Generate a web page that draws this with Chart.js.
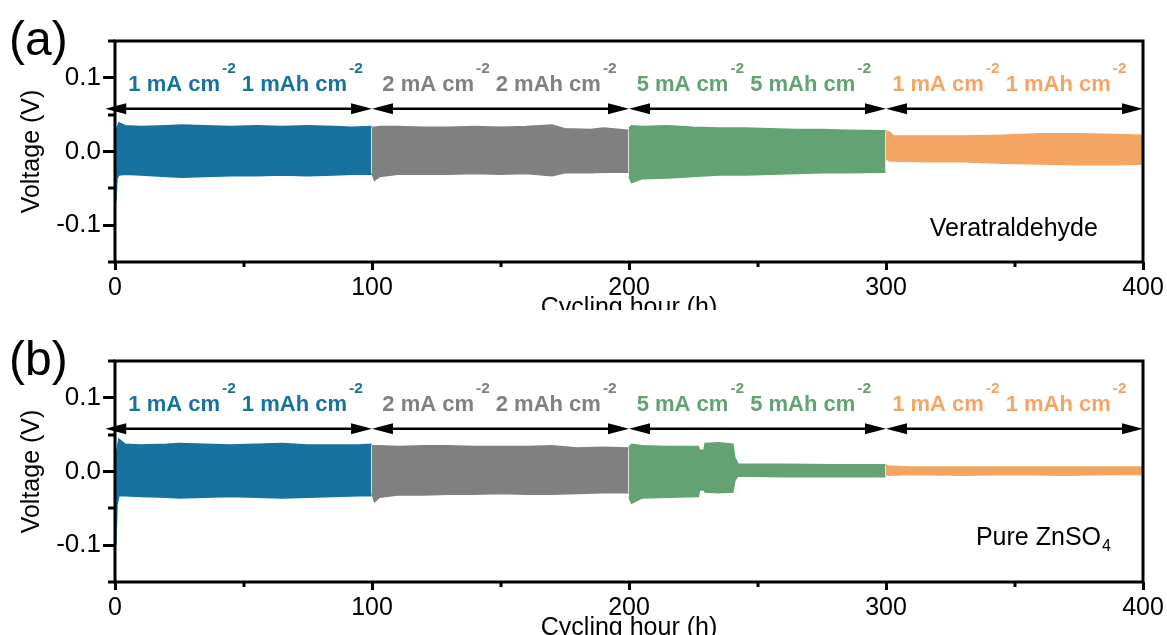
<!DOCTYPE html>
<html>
<head>
<meta charset="utf-8">
<script src="https://cdn.jsdelivr.net/npm/chart.js@4.4.1/dist/chart.umd.min.js"></script>
<style>
html, body { margin:0; padding:0; background:#fff; overflow:hidden; width:1167px; height:635px; }
#pa { position:absolute; left:0; top:0; }
#wrapb { position:absolute; left:0; top:310px; width:1167px; height:325px; overflow:hidden; background:#fff; }
#pb { position:absolute; left:0; top:10px; }
</style>
</head>
<body>
<canvas id="pa" width="1167" height="330"></canvas>
<div id="wrapb"><canvas id="pb" width="1167" height="330"></canvas></div>
<script>
// current steps
const seg_start = [0, 100, 200, 300];
const seg_end = [100, 200, 300, 400];
const seg_colors = ["#17739e", "#808080", "#62a273", "#f4a564"];
const rate_labels = ["1 mA cm", "2 mA cm", "5 mA cm", "1 mA cm"];
const cap_labels = ["1 mAh cm", "2 mAh cm", "5 mAh cm", "1 mAh cm"];
const x_ticks = [0, 100, 200, 300, 400];
const y_ticks = [-0.1, 0, 0.1];

// (a) veratraldehyde: envelope of the voltage oscillation
const hours_a = [0, 0.3, 0.8, 1.5, 4, 10, 20, 26, 35, 45, 55, 65, 75, 85, 92, 99.8,
	100, 101, 103, 110, 120, 130, 140, 150, 160, 170, 175, 185, 190, 199.8,
	200, 201, 205, 215, 225, 235, 245, 255, 265, 275, 285, 299.8,
	300, 301.5, 303, 315, 330, 345, 360, 375, 390, 400];
const upper_a = [0.005, 0.015, 0.032, 0.039, 0.035, 0.034, 0.035, 0.036, 0.035, 0.034, 0.035, 0.034, 0.035, 0.034, 0.033, 0.034,
	0.033, 0.033, 0.034, 0.034, 0.033, 0.033, 0.034, 0.033, 0.034, 0.036, 0.031, 0.030, 0.032, 0.029,
	0.032, 0.035, 0.034, 0.035, 0.033, 0.032, 0.032, 0.031, 0.030, 0.030, 0.029, 0.028,
	0.028, 0.026, 0.021, 0.021, 0.021, 0.022, 0.024, 0.024, 0.023, 0.022];
const lower_a = [-0.020, -0.068, -0.036, -0.032, -0.031, -0.032, -0.034, -0.035, -0.034, -0.033, -0.033, -0.032, -0.033, -0.032, -0.031, -0.031,
	-0.030, -0.039, -0.034, -0.031, -0.031, -0.031, -0.030, -0.031, -0.030, -0.033, -0.029, -0.029, -0.028, -0.028,
	-0.034, -0.042, -0.037, -0.036, -0.034, -0.032, -0.032, -0.031, -0.030, -0.029, -0.029, -0.028,
	-0.010, -0.013, -0.013, -0.014, -0.014, -0.016, -0.017, -0.018, -0.018, -0.017];

// (b) pure ZnSO4
const hours_b = [0, 0.3, 0.8, 1.5, 4, 10, 20, 25, 35, 45, 55, 65, 75, 85, 95, 99.8,
	100, 101, 103, 110, 120, 130, 140, 150, 160, 170, 180, 190, 199.8,
	200, 201, 205, 215, 227, 227.4, 229.2, 229.6, 235, 240.4, 241.2, 242.5, 260, 280, 299.8,
	300, 301, 310, 330, 350, 370, 390, 400];
const upper_b = [0.010, 0.020, 0.030, 0.044, 0.037, 0.036, 0.037, 0.038, 0.037, 0.036, 0.037, 0.038, 0.036, 0.036, 0.036, 0.037,
	0.035, 0.035, 0.035, 0.034, 0.035, 0.035, 0.034, 0.034, 0.034, 0.035, 0.032, 0.033, 0.032,
	0.033, 0.037, 0.035, 0.034, 0.034, 0.029, 0.029, 0.038, 0.039, 0.037, 0.018, 0.010, 0.010, 0.009, 0.009,
	0.009, 0.007, 0.006, 0.006, 0.006, 0.006, 0.006, 0.006];
const lower_b = [-0.020, -0.100, -0.045, -0.033, -0.033, -0.034, -0.035, -0.036, -0.035, -0.034, -0.035, -0.036, -0.035, -0.034, -0.033, -0.033,
	-0.030, -0.041, -0.035, -0.032, -0.032, -0.031, -0.031, -0.030, -0.031, -0.031, -0.030, -0.029, -0.029,
	-0.035, -0.043, -0.036, -0.035, -0.034, -0.025, -0.025, -0.028, -0.029, -0.028, -0.012, -0.006, -0.007, -0.007, -0.007,
	-0.004, -0.005, -0.004, -0.005, -0.004, -0.005, -0.004, -0.004];

const font_name = "'Liberation Sans', Arial, sans-serif";

function make_datasets(hours, upper, lower) {
	const ds = [];
	for (let i = 0; i < seg_start.length; i++) {
		const lo = [], hi = [];
		const last = i === seg_start.length - 1;
		for (let k = 0; k < hours.length; k++) {
			const h = hours[k];
			if (h >= seg_start[i] && (h < seg_end[i] || (last && h <= seg_end[i]))) {
				lo.push({x: h, y: lower[k]});
				hi.push({x: h, y: upper[k]});
			}
		}
		ds.push({data: lo, borderColor: seg_colors[i], borderWidth: 1.5, pointRadius: 0, fill: false});
		ds.push({data: hi, borderColor: seg_colors[i], backgroundColor: seg_colors[i], borderWidth: 1.5, pointRadius: 0, fill: "-1"});
	}
	return ds;
}

// box, minor ticks, arrows and texts
const panel_plugin = {
	id: "panel",
	afterDraw(chart, args, opts) {
		const ctx = chart.ctx;
		const xs = chart.scales.x, ys = chart.scales.y;
		const area = chart.chartArea;
		ctx.save();
		ctx.strokeStyle = "#000";
		ctx.lineWidth = 3;
		ctx.strokeRect(area.left, area.top, area.right - area.left, area.bottom - area.top);
		// minor ticks
		ctx.beginPath();
		for (let v = -0.15; v <= 0.151; v += 0.05) {
			if (y_ticks.some(t => Math.abs(t - v) < 1e-6)) continue;
			const py = Math.round(ys.getPixelForValue(v));
			ctx.moveTo(area.left - 7, py);
			ctx.lineTo(area.left, py);
		}
		for (let v = 50; v < 400; v += 100) {
			const px = Math.round(xs.getPixelForValue(v));
			ctx.moveTo(px, area.bottom);
			ctx.lineTo(px, area.bottom + 5);
		}
		ctx.stroke();

		// arrows
		const ay = ys.getPixelForValue(0.058);
		ctx.lineWidth = 2.5;
		ctx.fillStyle = "#000";
		for (let i = 0; i < seg_start.length; i++) {
			const x0 = xs.getPixelForValue(seg_start[i] - (i === 0 ? 3.8 : 0));
			const x1 = xs.getPixelForValue(seg_end[i]);
			ctx.beginPath();
			ctx.moveTo(x0 + 10, ay);
			ctx.lineTo(x1 - 10, ay);
			ctx.stroke();
			for (const [tip, dir] of [[x0, -1], [x1, 1]]) {
				ctx.beginPath();
				ctx.moveTo(tip, ay);
				ctx.lineTo(tip - dir * 21, ay - 5.5);
				ctx.lineTo(tip - dir * 21, ay + 5.5);
				ctx.closePath();
				ctx.fill();
			}
		}

		// step labels
		const by = ys.getPixelForValue(0.082);
		ctx.textBaseline = "alphabetic";
		ctx.textAlign = "left";
		for (let i = 0; i < seg_start.length; i++) {
			ctx.fillStyle = seg_colors[i];
			let x = xs.getPixelForValue(opts.labelStart[i]);
			for (const txt of [rate_labels[i], cap_labels[i]]) {
				ctx.font = "bold 22px " + font_name;
				ctx.fillText(txt, x, by);
				x += ctx.measureText(txt).width + 2;
				ctx.font = "bold 15.5px " + font_name;
				ctx.fillText("-2", x, by - 18);
				x += ctx.measureText("-2").width + 6;
			}
		}

		// panel tag and electrolyte name
		ctx.fillStyle = "#000";
		ctx.font = "48px " + font_name;
		ctx.fillText(opts.tag, 9, 55);
		ctx.font = "25px " + font_name;
		const nx = xs.getPixelForValue(opts.nameAt[0]);
		const ny = ys.getPixelForValue(opts.nameAt[1]);
		ctx.fillText(opts.name, nx, ny);
		if (opts.sub) {
			const w = ctx.measureText(opts.name).width;
			ctx.font = "16px " + font_name;
			ctx.fillText(opts.sub, nx + w + 1, ny + 6);
		}
		ctx.restore();
	}
};

function panel_conf(hours, upper, lower, tag, name, sub, nameAt) {
	return {
		type: "line",
		data: {datasets: make_datasets(hours, upper, lower)},
		options: {
			responsive: false,
			animation: false,
			devicePixelRatio: 1,
			layout: {padding: {left: 0, right: 24, top: 41, bottom: 0}},
			scales: {
				x: {
					type: "linear",
					min: 0,
					max: 400,
					afterFit: s => { s.height = 68; },
					border: {display: false},
					grid: {drawOnChartArea: false, tickLength: 8, tickWidth: 3, tickColor: c => x_ticks.includes(c.tick.value) ? "#000" : "rgba(0,0,0,0)"},
					ticks: {
						stepSize: 50,
						autoSkip: false,
						maxRotation: 0,
						padding: 3,
						color: "#000",
						font: {family: font_name, size: 25},
						callback: v => x_ticks.includes(v) ? String(v) : ""
					},
					title: {display: true, text: "Cycling hour (h)", color: "#000", font: {family: font_name, size: 25}, padding: {top: 0, bottom: 7}}
				},
				y: {
					min: -0.15,
					max: 0.15,
					afterFit: s => { s.width = 115; },
					border: {display: false},
					grid: {drawOnChartArea: false, tickLength: 12, tickWidth: 3, tickColor: c => y_ticks.some(t => Math.abs(t - c.tick.value) < 1e-6) ? "#000" : "rgba(0,0,0,0)"},
					ticks: {
						stepSize: 0.05,
						autoSkip: false,
						padding: 2,
						color: "#000",
						font: {family: font_name, size: 26},
						callback: v => y_ticks.some(t => Math.abs(t - v) < 1e-6) ? v.toFixed(1) : ""
					},
					title: {display: true, text: "Voltage (V)", color: "#000", font: {family: font_name, size: 25}, padding: {top: 17, bottom: 0}}
				}
			},
			plugins: {
				legend: {display: false},
				tooltip: {enabled: false},
				panel: {tag: tag, name: name, sub: sub, nameAt: nameAt, labelStart: [5.2, 104, 203, 302.4]}
			}
		},
		plugins: [panel_plugin]
	};
}

new Chart(document.getElementById("pa"), panel_conf(hours_a, upper_a, lower_a, "(a)", "Veratraldehyde", "", [317, -0.115]));
new Chart(document.getElementById("pb"), panel_conf(hours_b, upper_b, lower_b, "(b)", "Pure ZnSO", "4", [335, -0.1]));
</script>
</body>
</html>
